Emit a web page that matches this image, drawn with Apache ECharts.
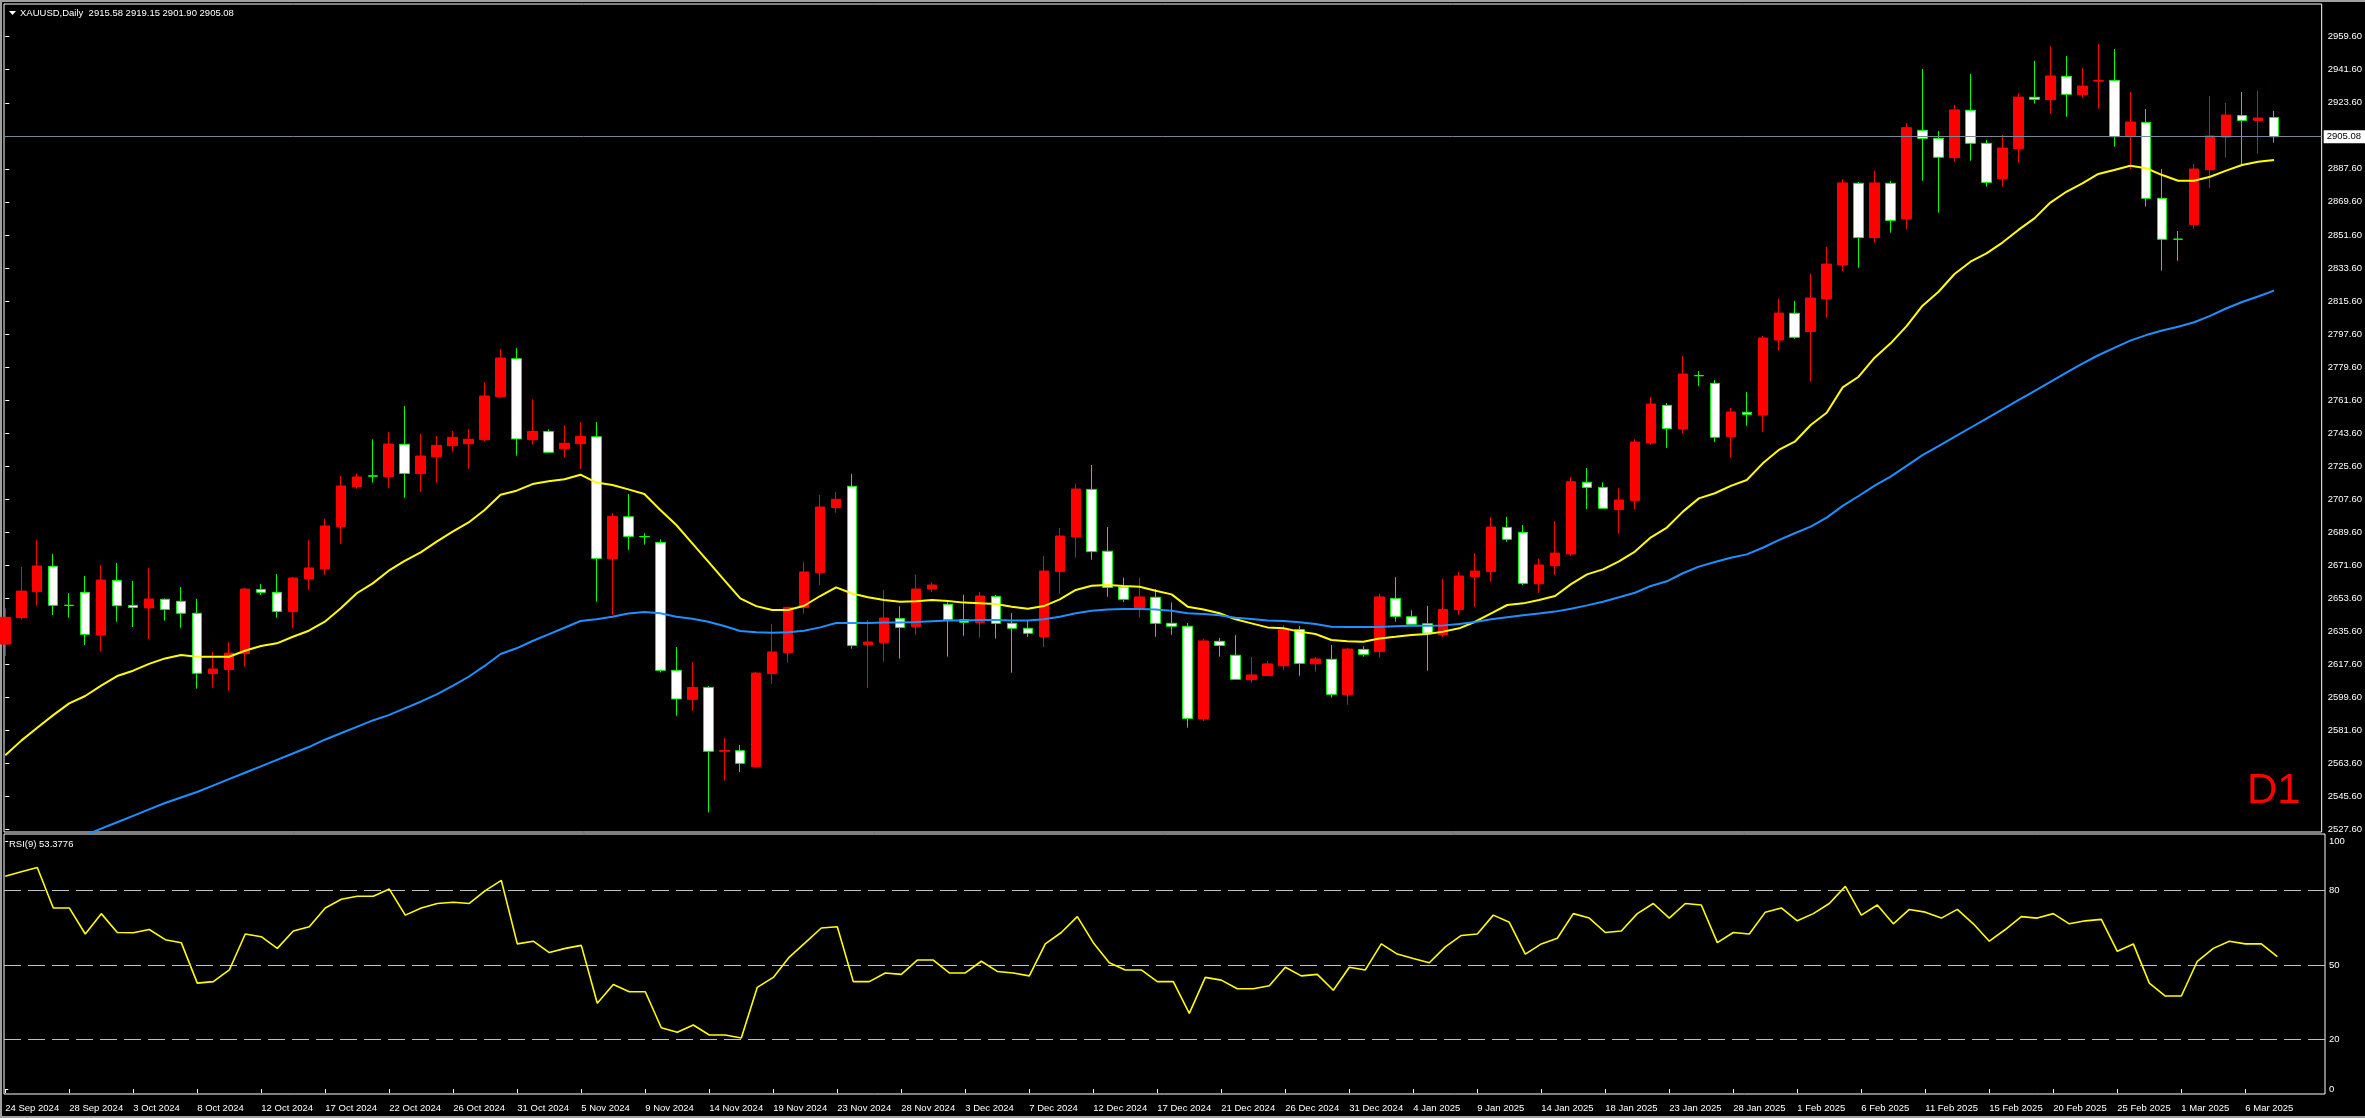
<!DOCTYPE html>
<html><head><meta charset="utf-8">
<script src="https://cdn.jsdelivr.net/npm/echarts@6/dist/echarts.min.js"></script>
<style>html,body{margin:0;padding:0;background:#000;overflow:hidden}#c{width:2365px;height:1118px}</style>
</head><body><div id="c"></div>
<script>
const symbolName = 'XAUUSD,Daily';
const timeframeLabel = 'D1';
const rsiPeriod = 9;
const dateLabels = ['24 Sep 2024','28 Sep 2024','3 Oct 2024','8 Oct 2024','12 Oct 2024','17 Oct 2024','22 Oct 2024','26 Oct 2024','31 Oct 2024','5 Nov 2024','9 Nov 2024','14 Nov 2024','19 Nov 2024','23 Nov 2024','28 Nov 2024','3 Dec 2024','7 Dec 2024','12 Dec 2024','17 Dec 2024','21 Dec 2024','26 Dec 2024','31 Dec 2024','4 Jan 2025','9 Jan 2025','14 Jan 2025','18 Jan 2025','23 Jan 2025','28 Jan 2025','1 Feb 2025','6 Feb 2025','11 Feb 2025','15 Feb 2025','20 Feb 2025','25 Feb 2025','1 Mar 2025','6 Mar 2025'];
const barsPerLabel = 4;
const priceTicks = [2527.6,2545.6,2563.6,2581.6,2599.6,2617.6,2635.6,2653.6,2671.6,2689.6,2707.6,2725.6,2743.6,2761.6,2779.6,2797.6,2815.6,2833.6,2851.6,2869.6,2887.6,2923.6,2941.6,2959.6];
const rsiTicks = [0,20,50,80,100];
const rsiLevels = [20,50,80];

const opens = [2628.6,2643.0,2657.2,2671.0,2649.8,2656.8,2633.5,2663.3,2649.7,2648.3,2653.0,2651.9,2645.4,2612.5,2614.7,2623.4,2658.4,2656.8,2646.3,2664.1,2669.5,2692.6,2714.4,2720.3,2719.8,2737.5,2721.5,2730.7,2736.7,2737.8,2740.0,2763.4,2784.1,2740.0,2744.4,2735.1,2737.8,2741.6,2675.1,2698.0,2687.2,2684.0,2614.3,2598.5,2605.0,2570.2,2570.5,2561.8,2612.5,2623.9,2648.6,2667.5,2703.0,2714.6,2628.3,2629.4,2642.5,2638.1,2658.6,2650.3,2641.9,2640.3,2654.6,2639.9,2637.2,2632.5,2668.1,2687.0,2712.9,2679.2,2659.7,2648.1,2654.1,2639.9,2638.3,2587.8,2630.1,2622.5,2609.2,2611.4,2616.8,2636.5,2617.9,2620.3,2601.0,2625.7,2624.5,2653.5,2643.5,2639.7,2633.7,2647.4,2665.3,2668.1,2692.2,2689.5,2661.5,2671.3,2677.7,2716.8,2714.0,2701.9,2706.8,2738.2,2758.7,2745.8,2775.0,2770.7,2741.6,2754.9,2753.4,2794.3,2808.9,2798.9,2816.7,2835.2,2879.7,2850.1,2879.7,2860.3,2908.6,2904.2,2893.7,2919.5,2901.5,2882.2,2898.6,2926.6,2925.3,2938.0,2928.0,2935.4,2935.8,2905.1,2912.9,2871.5,2849.3,2857.2,2887.1,2904.9,2916.6,2914.0,2915.58];
const highs = [2648.1,2670.6,2685.3,2677.7,2656.4,2665.7,2671.7,2672.8,2663.0,2670.1,2653.5,2659.7,2653.2,2624.3,2629.7,2659.2,2661.3,2666.8,2665.2,2685.3,2696.8,2720.2,2721.3,2740.2,2744.2,2758.3,2743.1,2742.0,2744.7,2745.8,2771.4,2789.4,2789.9,2762.0,2745.6,2747.8,2749.6,2749.6,2700.0,2710.4,2689.1,2685.7,2627.0,2618.8,2605.7,2577.4,2573.6,2613.4,2639.5,2649.0,2673.3,2709.8,2711.5,2721.3,2641.7,2658.1,2649.2,2666.3,2662.4,2651.4,2655.4,2657.0,2655.4,2645.5,2641.2,2676.6,2691.9,2716.0,2726.2,2692.4,2664.8,2664.8,2658.6,2651.3,2640.1,2631.4,2631.9,2633.5,2621.6,2619.4,2639.0,2638.5,2621.6,2628.1,2626.5,2627.4,2655.9,2665.1,2647.0,2649.4,2664.1,2667.9,2678.2,2697.9,2697.9,2693.5,2675.0,2695.7,2719.7,2724.6,2716.8,2713.5,2740.2,2763.3,2760.0,2785.6,2777.4,2772.5,2757.3,2766.0,2796.5,2816.7,2815.6,2830.3,2845.0,2882.1,2880.4,2886.4,2881.0,2912.5,2942.0,2908.2,2922.4,2939.3,2903.3,2906.0,2928.9,2946.4,2954.5,2949.1,2942.5,2955.6,2952.9,2929.5,2920.2,2887.5,2853.7,2890.2,2927.3,2923.5,2929.5,2930.0,2919.15];
const lows = [2622.1,2642.1,2649.5,2644.4,2643.0,2628.1,2624.5,2640.8,2637.9,2631.4,2641.4,2637.5,2604.3,2604.9,2603.2,2616.3,2655.4,2643.0,2637.5,2658.1,2666.4,2683.3,2713.3,2716.6,2713.8,2708.4,2711.5,2716.6,2733.5,2724.2,2739.3,2763.4,2731.3,2737.3,2733.1,2730.2,2724.2,2651.7,2644.4,2680.0,2682.8,2613.2,2589.6,2592.3,2536.9,2554.2,2558.9,2561.3,2607.0,2618.5,2645.2,2660.8,2700.2,2626.1,2604.8,2619.0,2620.7,2633.7,2657.0,2621.8,2633.2,2632.1,2631.6,2613.0,2632.6,2627.0,2656.1,2675.7,2674.6,2654.4,2651.5,2643.0,2632.6,2633.7,2583.1,2586.7,2621.7,2609.4,2607.6,2611.4,2614.6,2611.4,2613.6,2599.4,2595.6,2621.7,2621.2,2640.8,2639.4,2614.1,2632.3,2644.6,2649.0,2662.6,2684.4,2660.8,2656.6,2666.2,2676.8,2702.2,2702.6,2688.8,2702.2,2737.3,2735.6,2743.6,2769.3,2738.7,2730.2,2747.6,2744.4,2788.5,2795.0,2771.6,2806.5,2831.9,2833.7,2847.4,2852.8,2854.6,2881.1,2863.7,2891.5,2892.0,2877.9,2877.9,2890.9,2923.1,2917.7,2916.0,2926.4,2920.4,2899.7,2887.5,2867.0,2832.1,2837.5,2855.0,2877.3,2893.7,2889.3,2895.9,2901.90];
const closes = [2643.2,2657.5,2671.2,2649.7,2649.6,2633.9,2663.5,2649.5,2648.5,2653.2,2647.5,2645.4,2612.7,2615.0,2623.7,2658.6,2656.8,2646.4,2664.6,2670.1,2693.0,2714.8,2719.7,2720.1,2737.6,2721.6,2731.1,2736.9,2741.3,2740.2,2763.8,2784.5,2740.4,2744.5,2733.1,2738.0,2741.8,2675.3,2698.2,2687.3,2687.1,2614.3,2598.7,2605.0,2570.2,2570.6,2563.6,2612.8,2624.3,2648.6,2667.9,2703.3,2707.5,2627.9,2629.7,2642.8,2637.7,2658.6,2660.8,2641.9,2640.5,2654.8,2639.9,2637.2,2634.5,2668.4,2687.5,2713.1,2679.0,2659.5,2653.0,2654.3,2639.9,2638.3,2588.1,2630.3,2627.9,2609.4,2611.8,2617.8,2636.3,2618.1,2620.5,2601.2,2625.9,2623.0,2654.3,2643.7,2639.4,2634.5,2647.5,2665.7,2668.4,2692.4,2685.7,2661.7,2671.7,2678.2,2717.1,2714.0,2702.6,2707.1,2738.7,2759.4,2746.0,2775.8,2774.8,2741.3,2755.1,2753.8,2795.4,2809.0,2795.8,2817.2,2835.7,2879.9,2850.1,2879.9,2859.5,2910.0,2904.2,2893.9,2919.7,2901.5,2880.2,2898.9,2926.7,2925.5,2938.2,2928.2,2932.7,2935.7,2905.1,2913.1,2871.5,2849.2,2849.2,2887.5,2905.5,2916.9,2914.0,2915.3,2905.08];
const maFast = [2568,2576,2583,2589.9,2596.3,2600.3,2606.0,2611.2,2614.1,2617.8,2620.8,2622.7,2621.7,2621.7,2621.7,2625.0,2627.6,2629.0,2632.6,2635.9,2640.8,2648.1,2656.3,2661.7,2668.6,2673.9,2678.6,2684.4,2689.9,2694.9,2701.7,2710.0,2712.2,2715.8,2717.3,2718.4,2720.9,2716.6,2715.3,2712.9,2710.4,2701.7,2693.5,2683.5,2673.5,2663.5,2653.5,2649.3,2647.2,2647.2,2649.5,2654.8,2659.5,2656.2,2654.1,2652.6,2651.7,2651.9,2652.6,2652.1,2651.2,2650.8,2650.4,2649.0,2647.9,2649.3,2653.0,2658.1,2660.4,2660.8,2660.3,2659.9,2657.7,2655.7,2649.0,2647.5,2645.4,2642.1,2639.9,2637.7,2637.2,2635.4,2634.1,2630.8,2630.1,2629.9,2631.7,2632.6,2633.6,2634.1,2635.4,2637.2,2640.8,2645.4,2649.9,2650.8,2652.6,2654.8,2661.3,2666.6,2669.3,2673.7,2679.0,2686.8,2692.1,2700.8,2708.0,2710.8,2714.8,2718.0,2727.1,2734.4,2738.9,2748.0,2754.7,2768.5,2774.3,2784.7,2792.5,2801.9,2813.0,2820.6,2830.3,2837.0,2841.5,2847.4,2854.3,2860.6,2869.2,2875.1,2879.7,2884.8,2887.0,2889.3,2887.9,2884.2,2881.1,2881.1,2883.3,2886.6,2889.7,2891.5,2892.4];
const maSlow = [2507,2510.5,2514,2517.5,2521,2524.5,2528,2531.5,2535,2538.5,2542,2545,2548,2551.5,2555,2558.5,2562,2565.5,2569,2572.5,2576.5,2580,2583.5,2587,2589.9,2593.6,2597.2,2601.2,2605.8,2610.8,2616.7,2623.2,2626.3,2630.3,2633.9,2637.5,2641.2,2642.1,2643.5,2645.3,2646.1,2645.4,2643.5,2642.4,2640.8,2638.5,2635.7,2635.0,2634.8,2635.0,2635.9,2637.7,2640.1,2640.1,2640.1,2640.3,2640.3,2640.6,2641.0,2641.4,2641.5,2641.7,2641.7,2641.5,2641.4,2642.1,2643.5,2645.4,2646.8,2647.5,2647.7,2647.7,2647.5,2646.8,2645.4,2645.0,2644.3,2643.0,2642.3,2641.4,2641.2,2640.5,2639.6,2638.1,2637.9,2637.9,2637.9,2638.3,2638.6,2638.6,2638.8,2639.6,2640.6,2642.1,2643.2,2644.3,2645.3,2646.3,2647.9,2649.7,2651.7,2654.1,2656.6,2660.3,2662.8,2667.2,2670.8,2673.3,2675.7,2677.5,2681.1,2685.3,2689.0,2692.6,2697.5,2703.9,2709.3,2715.0,2719.9,2725.7,2731.6,2736.5,2741.5,2746.5,2751.5,2756.5,2761.5,2766.5,2771.5,2776.5,2781.5,2786.0,2790.0,2794.0,2797.0,2799.5,2801.5,2804.0,2807.5,2811.5,2815.0,2818.0,2821.2];
const rsiValues = [85.8,87.6,89.3,73.0,73.0,62.5,70.7,63.1,63.0,64.3,60.2,59.0,42.7,43.3,48.0,62.5,61.4,56.7,63.7,65.4,73.0,76.5,77.7,77.7,80.6,70.1,73.0,74.8,75.3,74.8,80.0,84.1,58.5,59.6,55.0,56.7,57.9,34.6,42.1,39.2,39.2,24.7,22.9,25.8,21.8,21.8,20.6,41.0,45.0,53.2,59.0,64.9,65.4,43.3,43.3,46.8,46.2,52.0,52.0,46.8,46.8,51.5,47.4,46.8,45.6,58.5,63.1,69.5,59.0,50.9,48.0,48.0,43.3,43.3,30.5,45.0,43.9,40.4,40.4,41.6,49.1,45.6,46.2,39.8,49.1,48.0,58.5,54.4,52.6,50.9,57.3,61.9,62.5,70.1,67.2,54.4,58.5,60.8,70.7,68.9,63.1,63.7,70.7,74.8,68.9,74.8,74.2,59.0,63.1,62.5,71.3,73.0,67.8,70.7,74.8,81.7,70.1,74.2,66.6,72.4,71.3,68.9,72.4,66.6,59.6,64.3,69.5,68.9,70.7,66.6,67.8,68.4,55.5,58.5,42.7,37.5,37.5,51.5,56.7,59.6,58.5,58.5,53.3776];

const FONT = 'Liberation Sans';
const n = closes.length;
const last = n - 1;
const candleData = opens.map((o, i) => [i, o, closes[i], lows[i], highs[i]]);
const fastData = maFast.map((v, i) => [i, v]);
const slowData = maSlow.map((v, i) => [i, v]);
const rsiData = rsiValues.map((v, i) => [i, v]);
const labelBars = dateLabels.map((d, k) => k * barsPerLabel);
const lastPrice = closes[last];

const X_MIN = -0.08, X_MAX = 144.98;
const chart = echarts.init(document.getElementById('c'), null, {width: 2365, height: 1118});
chart.setOption({
  backgroundColor: '#000',
  animation: false,
  grid: [
    {left: 4, top: 4, right: 40, height: 828, show: true, borderColor: '#fff', borderWidth: 1, backgroundColor: '#000'},
    {left: 4, top: 834, right: 40, height: 260, show: true, borderColor: '#fff', borderWidth: 1, backgroundColor: '#000'}
  ],
  xAxis: [
    {type: 'value', gridIndex: 0, min: X_MIN, max: X_MAX, show: false},
    {type: 'value', gridIndex: 1, min: X_MIN, max: X_MAX,
     axisLine: {show: false}, splitLine: {show: false},
     axisTick: {show: true, customValues: labelBars, length: 4, lineStyle: {color: '#fff'}},
     axisLabel: {customValues: labelBars, formatter: v => dateLabels[Math.round(v / barsPerLabel)] || '',
                 color: '#fff', fontSize: 9.5, fontFamily: FONT, align: 'left', margin: 9}}
  ],
  yAxis: [
    {type: 'value', gridIndex: 0, position: 'right', min: 2526.2, max: 2977.42, scale: true,
     splitLine: {show: false}, axisLine: {show: false},
     axisTick: {show: true, customValues: priceTicks, length: 4, lineStyle: {color: '#fff'}},
     axisLabel: {customValues: priceTicks, formatter: v => v.toFixed(2), color: '#fff', fontSize: 9.5, fontFamily: FONT, margin: 6}},
    {type: 'value', gridIndex: 1, position: 'right', min: -2, max: 102.8,
     splitLine: {show: false}, axisLine: {show: false},
     axisTick: {show: true, customValues: rsiTicks, length: 3, lineStyle: {color: '#fff'}},
     axisLabel: {customValues: rsiTicks, formatter: v => String(v), color: '#fff', fontSize: 9.5, fontFamily: FONT, margin: 4}}
  ],
  series: [
    {type: 'candlestick', name: 'price', xAxisIndex: 0, yAxisIndex: 0, data: candleData, barWidth: 10, clip: true,
     itemStyle: {color: '#ff0000', color0: '#ffffff', borderColor: '#ff0000', borderColor0: '#00ff00', borderWidth: 1},
     markLine: {silent: true, symbol: 'none', animation: false,
       lineStyle: {color: '#778899', type: 'solid', width: 1},
       label: {show: true, position: 'end', formatter: () => lastPrice.toFixed(2), color: '#000', backgroundColor: '#fff',
               fontSize: 9.5, fontFamily: FONT, padding: [2, 4, 1, 3], distance: 2},
       data: [{yAxis: lastPrice}]}},
    {type: 'line', name: 'MA fast', xAxisIndex: 0, yAxisIndex: 0, data: fastData, symbol: 'none', clip: true,
     lineStyle: {color: '#ffff00', width: 2}, z: 5},
    {type: 'line', name: 'MA slow', xAxisIndex: 0, yAxisIndex: 0, data: slowData, symbol: 'none', clip: true,
     lineStyle: {color: '#1e90ff', width: 2}, z: 5},
    {type: 'line', name: 'RSI', xAxisIndex: 1, yAxisIndex: 1, data: rsiData, symbol: 'none', clip: true,
     lineStyle: {color: '#ffff00', width: 1.6}, z: 5,
     markLine: {silent: true, symbol: 'none', animation: false, label: {show: false},
       lineStyle: {color: '#c0c0c0', type: [17, 7], width: 1},
       data: rsiLevels.map(v => ({yAxis: v}))}}
  ],
  graphic: [
    {type: 'rect', shape: {x: 0, y: 0, width: 2365, height: 2}, style: {fill: '#a0a0a0'}, silent: true},
    {type: 'rect', shape: {x: 0, y: 0, width: 2, height: 1118}, style: {fill: '#a0a0a0'}, silent: true},
    {type: 'rect', shape: {x: 0, y: 1116, width: 2365, height: 2}, style: {fill: '#a0a0a0'}, silent: true},
    {type: 'polygon', shape: {points: [[9, 11], [16, 11], [12.5, 15]]}, style: {fill: '#fff'}, silent: true},
    {type: 'text', x: 20, y: 13, silent: true,
     style: {text: symbolName + '  ' + [opens[last], highs[last], lows[last], closes[last]].map(v => v.toFixed(2)).join(' '),
             fill: '#fff', font: '9.5px "' + FONT + '"', verticalAlign: 'middle'}},
    {type: 'text', x: 9, y: 844, silent: true,
     style: {text: 'RSI(' + rsiPeriod + ') ' + rsiValues[last].toFixed(4), fill: '#fff', font: '9.5px "' + FONT + '"', verticalAlign: 'middle'}},
    {type: 'text', x: 2247, y: 791, silent: true,
     style: {text: timeframeLabel, fill: '#ff0000', font: '42px "' + FONT + '"', verticalAlign: 'middle'}}
  ]
});
</script>
</body></html>
